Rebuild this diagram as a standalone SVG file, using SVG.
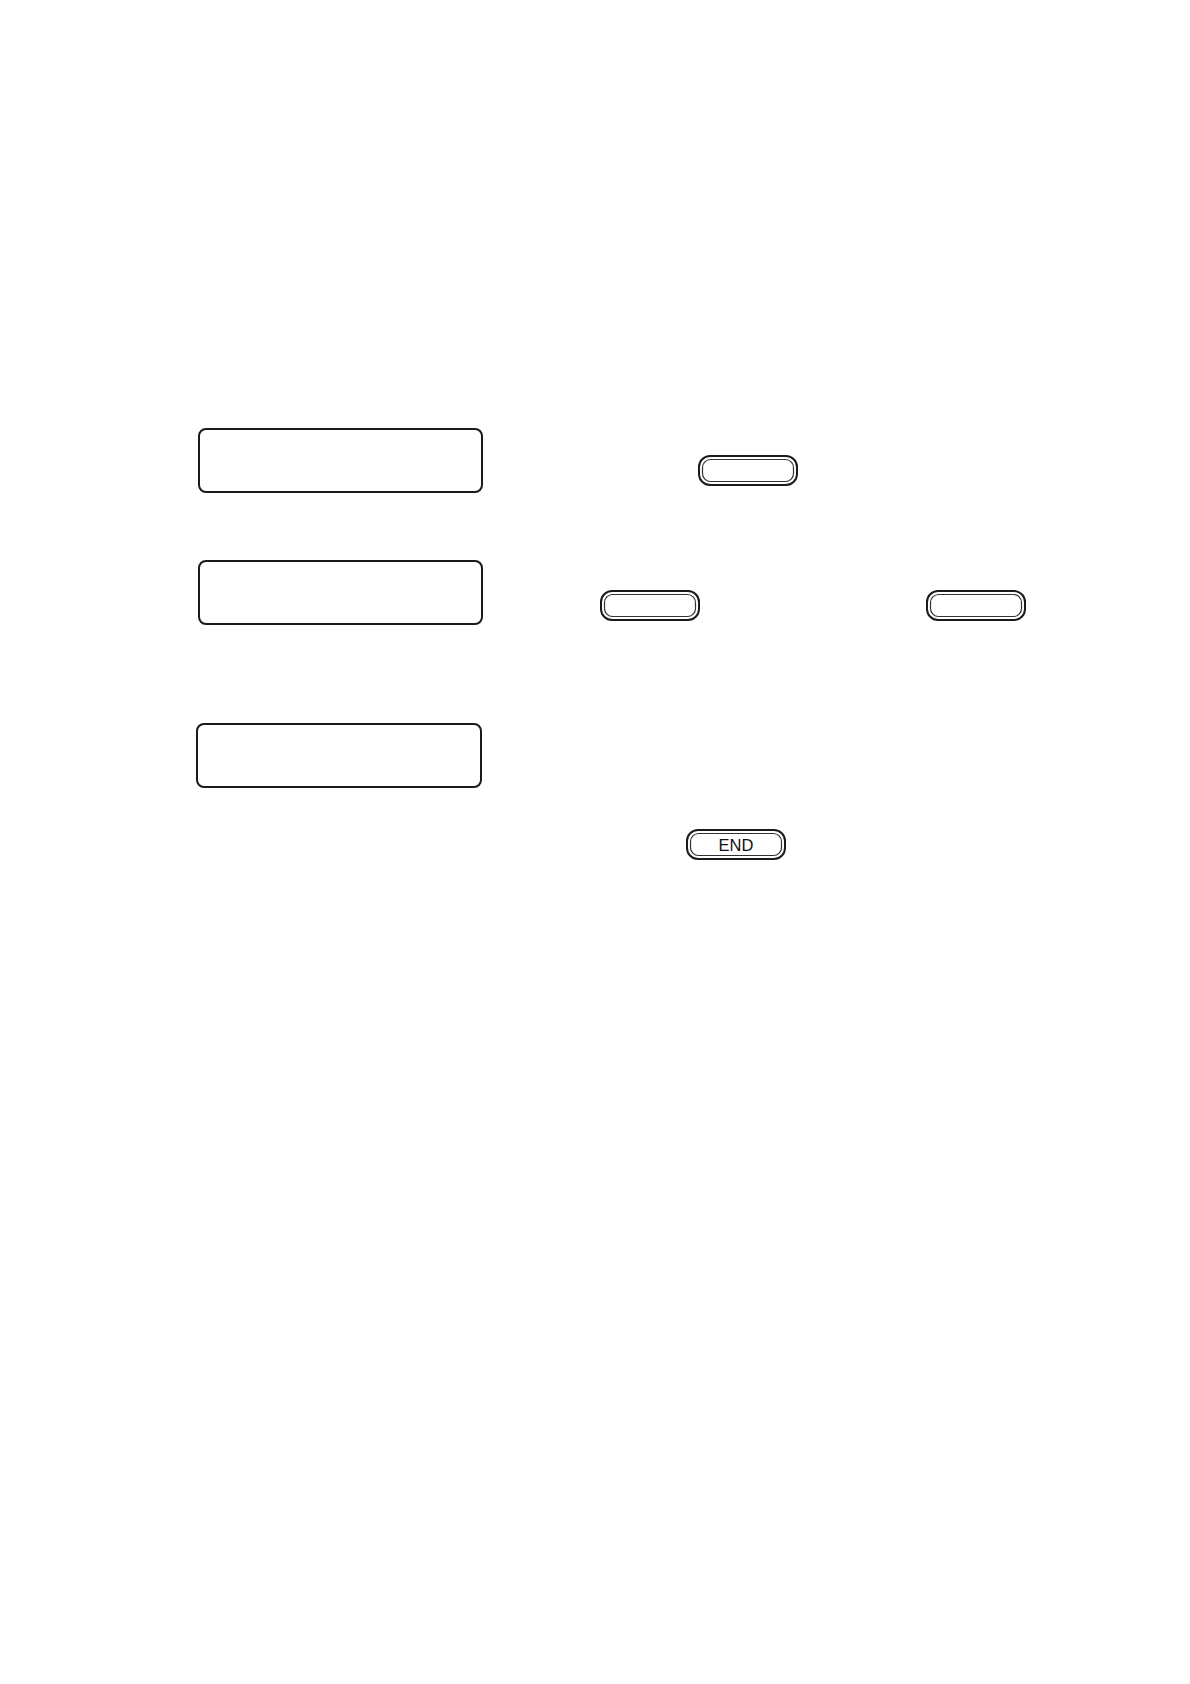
<svg xmlns="http://www.w3.org/2000/svg" width="1190" height="1684" viewBox="0 0 1190 1684">
<style>
.lcd{fill:#fff;stroke:#1a1a1a;stroke-width:2}
.bo{fill:#fff;stroke:#1a1a1a;stroke-width:2}
.bi{fill:none;stroke:#333;stroke-width:1.2}
.t{font-family:"Liberation Sans",Arial,sans-serif;font-size:16.5px;fill:#111;text-anchor:middle}
</style>
<rect width="1190" height="1684" fill="#fff"/>
<g id="lcd1"><rect class="lcd" x="199" y="429" width="283" height="63" rx="7"/></g>
<g id="lcd2"><rect class="lcd" x="199" y="561" width="283" height="63" rx="7"/></g>
<g id="lcd3"><rect class="lcd" x="197" y="724" width="284" height="63" rx="7"/></g>
<g id="btn1"><rect class="bo" x="699" y="456" width="98" height="29" rx="11"/><rect class="bi" x="702.5" y="459.5" width="91" height="22" rx="8"/></g>
<g id="btn2"><rect class="bo" x="601" y="591" width="98" height="29" rx="11"/><rect class="bi" x="604.5" y="594.5" width="91" height="22" rx="8"/></g>
<g id="btn3"><rect class="bo" x="927" y="591" width="98" height="29" rx="11"/><rect class="bi" x="930.5" y="594.5" width="91" height="22" rx="8"/></g>
<g id="btnEnd"><rect class="bo" x="687" y="830" width="98" height="29" rx="11"/><rect class="bi" x="690.5" y="833.5" width="91" height="22" rx="8"/><text class="t" x="736" y="850.5">END</text></g>
<g id="connectors"></g>
</svg>
